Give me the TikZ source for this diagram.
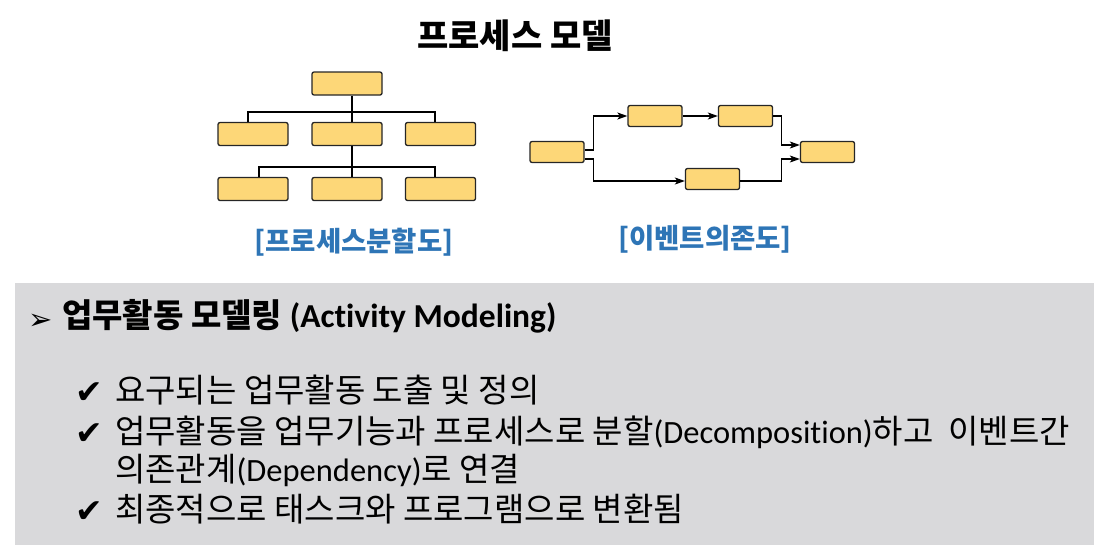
\documentclass[tikz,border=0pt]{standalone}
\usepackage{fontspec}
\setmainfont{Noto Sans CJK KR}
\newfontfamily\engfont[Ligatures=NoCommon, BoldFont={Carlito Bold}]{Carlito}
\newfontfamily\symfont{DejaVu Sans}
\usetikzlibrary{arrows.meta}
\definecolor{boxyellow}{RGB}{253,215,120}
\definecolor{capblue}{RGB}{46,117,182}
\definecolor{panelgray}{RGB}{217,217,219}
\newcommand{\eng}[1]{{\engfont\fontsize{32.5}{38}\selectfont #1}}

\begin{document}
\begin{tikzpicture}[x=1pt, y=-1pt, >={Stealth[length=10pt,width=7pt,inset=2.5pt]}]
\tikzstyle{blk}=[draw=black!85, line width=1.3pt, fill=boxyellow, rounded corners=2pt, minimum width=70pt, minimum height=23pt, inner sep=0pt]
\tikzstyle{evt}=[blk, minimum width=54pt, minimum height=21pt]
\tikzstyle{captxt}=[text=capblue, font=\bfseries\fontsize{27.5}{32}\selectfont]
\tikzstyle{txtline}=[anchor=base west, inner sep=0pt, font=\fontsize{33}{38}\selectfont]
\tikzstyle{chk}=[anchor=base west, inner sep=0pt, font=\symfont\fontsize{33}{36}\selectfont]
\useasboundingbox (0,0) rectangle (1115,555);

\node[font=\bfseries\fontsize{34}{40}\selectfont] (title) at (515,36) {프로세스 모델};

% process decomposition tree
\node[blk] (top) at (347,83.5) {};
\node[blk] (m1) at (253,134) {};
\node[blk] (m2) at (347,134) {};
\node[blk] (m3) at (440.5,134) {};
\node[blk] (b1) at (253,189) {};
\node[blk] (b2) at (347,189) {};
\node[blk] (b3) at (440.5,189) {};

\draw[line width=1.2pt] ([xshift=5pt]top.south) -- ([xshift=5pt]m2.north);
\draw[line width=1.2pt] ([xshift=-5pt]m1.north) |- (352,112) -| ([xshift=-5.5pt]m3.north);
\draw[line width=1.2pt] ([xshift=5pt]m2.south) -- ([xshift=5pt]b2.north);
\draw[line width=1.2pt] ([xshift=6pt]b1.north) |- (352,167) -| ([xshift=-5.5pt]b3.north);

% event dependency
\node[evt] (a) at (557,152) {};
\node[evt] (b) at (655,116) {};
\node[evt] (c) at (745.5,116) {};
\node[evt] (d) at (712.5,179) {};
\node[evt] (e) at (827.5,152) {};

\draw[->, line width=1.2pt] ([yshift=2pt]a.east) -- ++(9,0) |- (b.west);
\draw[->, line width=1.2pt] ([yshift=-7pt]a.east) -- ++(9,0) |- ([yshift=-2pt]d.west);
\draw[->, line width=1.2pt] (b) -- (c);
\draw[->, line width=1.2pt] (c.east) -| ([xshift=-18pt,yshift=7pt]e.west) -- ([yshift=7pt]e.west);
\draw[->, line width=1.2pt] ([yshift=-2pt]d.east) -| ([xshift=-18pt,yshift=-7pt]e.west) -- ([yshift=-7pt]e.west);

\node[captxt] (cap1) at (354,242) {[프로세스분할도]};
\node[captxt] (cap2) at (705,239) {[이벤트의존도]};

% activity modeling panel
\fill[panelgray] (15,283) rectangle (1094,545);
\node[chk, font=\symfont\fontsize{29}{32}\selectfont] (arw) at (28,329) {➢};
\node[txtline, font=\bfseries\fontsize{33}{38}\selectfont] (head) at (62,327) {업무활동 모델링 {\engfont\bfseries\fontsize{33.5}{38}\selectfont(Activity Modeling)}};

\node[chk] (c1) at (75,403) {✔};
\node[txtline] (l1) at (115,402) {요구되는 업무활동 도출 및 정의};
\node[chk] (c2) at (75,444) {✔};
\node[txtline] (l2) at (115,443) {업무활동을 업무기능과 프로세스로 분할\eng{(Decomposition)}하고\ \ 이벤트간};
\node[txtline] (l3) at (115,481) {의존관계\eng{(Dependency)}로 연결};
\node[chk] (c4) at (75,522) {✔};
\node[txtline] (l4) at (115,521) {최종적으로 태스크와 프로그램으로 변환됨};
\end{tikzpicture}
\end{document}
